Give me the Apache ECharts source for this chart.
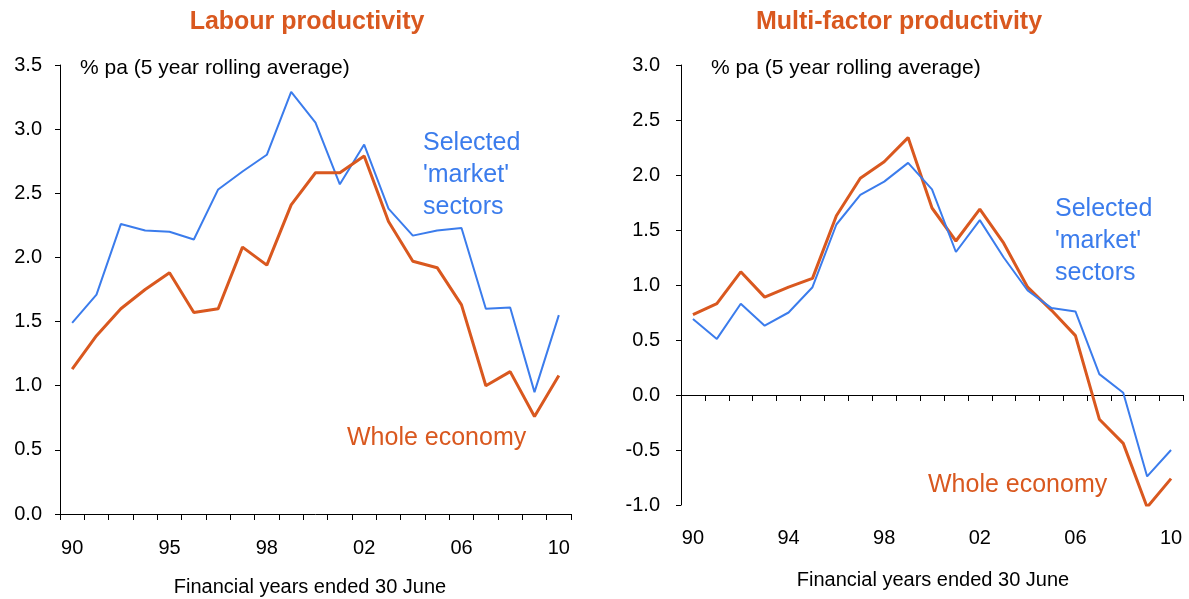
<!DOCTYPE html>
<html>
<head>
<meta charset="utf-8">
<script src="https://cdn.jsdelivr.net/npm/echarts@6/dist/echarts.min.js"></script>
<style>
  html, body { margin: 0; padding: 0; background: #fff; }
  #chart { width: 1189px; height: 599px; }
</style>
</head>
<body>
<div id="chart"></div>
<script>
/* 数据 */
const years = ['1990','1991','1992','1993','1994','1995','1996','1997','1998','1999','2000',
  '2001','2002','2003','2004','2005','2006','2007','2008','2009','2010'];

// Labour productivity
const labourMarket = [1.49, 1.71, 2.26, 2.21, 2.20, 2.14, 2.53, 2.67, 2.80, 3.29, 3.05,
  2.57, 2.88, 2.38, 2.17, 2.21, 2.23, 1.60, 1.61, 0.95, 1.55];
const labourWhole = [1.13, 1.39, 1.60, 1.75, 1.88, 1.57, 1.60, 2.08, 1.94, 2.41, 2.66,
  2.66, 2.79, 2.28, 1.97, 1.92, 1.63, 1.00, 1.11, 0.76, 1.08];

// Multi-factor productivity
const mfpMarket = [0.69, 0.51, 0.83, 0.63, 0.75, 0.98, 1.55, 1.82, 1.94, 2.11, 1.87,
  1.30, 1.59, 1.25, 0.95, 0.79, 0.76, 0.19, 0.02, -0.74, -0.50];
const mfpWhole = [0.73, 0.83, 1.12, 0.89, 0.98, 1.06, 1.63, 1.97, 2.12, 2.34, 1.70,
  1.40, 1.69, 1.38, 0.98, 0.77, 0.54, -0.22, -0.44, -1.02, -0.76];

// 轴标签(每4年一个)
const leftTicks = ['90', '95', '98', '02', '06', '10'];
const rightTicks = ['90', '94', '98', '02', '06', '10'];

const BLUE = '#3b7cec';
const RED = '#d9581f';
const FONT = '"Liberation Sans", Arial, sans-serif';

const chart = echarts.init(document.getElementById('chart'));

function tickFmt(ticks) {
  return function (v, i) { return i % 4 === 0 ? ticks[i / 4] : ''; };
}

const axisLabelStyle = { color: '#000', fontSize: 20, fontFamily: FONT };
const blackLine = { lineStyle: { color: '#000', width: 1 } };
const plainText = (size) => ({ color: '#000', fontSize: size, fontWeight: 'normal', fontFamily: FONT });
const titleText = { color: RED, fontSize: 25, fontWeight: 'bold', fontFamily: FONT };

chart.setOption({
  animation: false,
  textStyle: { fontFamily: FONT },
  title: [
    { text: 'Labour productivity', left: 302, top: 5, textAlign: 'center', textStyle: titleText },
    { text: 'Multi-factor productivity', left: 894, top: 5, textAlign: 'center', textStyle: titleText },
    { text: '% pa (5 year rolling average)', left: 75, top: 53, textStyle: plainText(21) },
    { text: '% pa (5 year rolling average)', left: 706, top: 53, textStyle: plainText(21) },
    { text: 'Financial years ended 30 June', left: 305, top: 572, textAlign: 'center', textStyle: plainText(20) },
    { text: 'Financial years ended 30 June', left: 928, top: 565, textAlign: 'center', textStyle: plainText(20) }
  ],
  grid: [
    { left: 60, right: 618, top: 65, bottom: 85 },
    { left: 681, right: 6, top: 65, bottom: 94 }
  ],
  xAxis: [
    {
      gridIndex: 0, type: 'category', data: years, boundaryGap: true,
      axisLine: blackLine,
      axisTick: { show: true, interval: 0, length: 6, lineStyle: { color: '#000' } },
      axisLabel: Object.assign({ interval: 0, margin: 24, formatter: tickFmt(leftTicks) }, axisLabelStyle),
      splitLine: { show: false }
    },
    {
      // 右图零线
      gridIndex: 1, type: 'category', data: years, boundaryGap: true,
      axisLine: { onZero: true, lineStyle: { color: '#000', width: 1 } },
      axisTick: { show: true, interval: 0, length: 6, lineStyle: { color: '#000' } },
      axisLabel: { show: false },
      splitLine: { show: false }
    },
    {
      // 右图底部标签
      gridIndex: 1, type: 'category', data: years, boundaryGap: true,
      position: 'bottom',
      axisLine: { show: false, onZero: false },
      axisTick: { show: false },
      axisLabel: Object.assign({ interval: 0, margin: 23, formatter: tickFmt(rightTicks) }, axisLabelStyle),
      splitLine: { show: false }
    }
  ],
  yAxis: [
    {
      gridIndex: 0, type: 'value', min: 0, max: 3.5, interval: 0.5,
      axisLine: { show: true, lineStyle: { color: '#000', width: 1 } },
      axisTick: { show: true, length: 5, lineStyle: { color: '#000' } },
      axisLabel: Object.assign({ margin: 18, formatter: v => v.toFixed(1) }, axisLabelStyle),
      splitLine: { show: false }
    },
    {
      gridIndex: 1, type: 'value', min: -1, max: 3, interval: 0.5,
      axisLine: { show: true, onZero: false, lineStyle: { color: '#000', width: 1 } },
      axisTick: { show: true, length: 5, lineStyle: { color: '#000' } },
      axisLabel: Object.assign({ margin: 21, formatter: v => v.toFixed(1) }, axisLabelStyle),
      splitLine: { show: false }
    }
  ],
  series: [
    { name: "Selected 'market' sectors", type: 'line', xAxisIndex: 0, yAxisIndex: 0,
      data: labourMarket, symbol: 'none', lineStyle: { color: BLUE, width: 2 } },
    { name: 'Whole economy', type: 'line', xAxisIndex: 0, yAxisIndex: 0,
      data: labourWhole, symbol: 'none', lineStyle: { color: RED, width: 3 } },
    { name: 'Whole economy', type: 'line', xAxisIndex: 1, yAxisIndex: 1,
      data: mfpWhole, symbol: 'none', lineStyle: { color: RED, width: 3 } },
    { name: "Selected 'market' sectors", type: 'line', xAxisIndex: 1, yAxisIndex: 1,
      data: mfpMarket, symbol: 'none', lineStyle: { color: BLUE, width: 2 } }
  ],
  graphic: [
    { type: 'text', left: 423, top: 127,
      style: { text: "Selected\n'market'\nsectors", fill: BLUE, lineHeight: 32, font: '25px ' + FONT } },
    { type: 'text', left: 347, top: 422,
      style: { text: 'Whole economy', fill: RED, lineHeight: 32, font: '25px ' + FONT } },
    { type: 'text', left: 1055, top: 193,
      style: { text: "Selected\n'market'\nsectors", fill: BLUE, lineHeight: 32, font: '25px ' + FONT } },
    { type: 'text', left: 928, top: 469,
      style: { text: 'Whole economy', fill: RED, lineHeight: 32, font: '25px ' + FONT } }
  ]
});
</script>
</body>
</html>
